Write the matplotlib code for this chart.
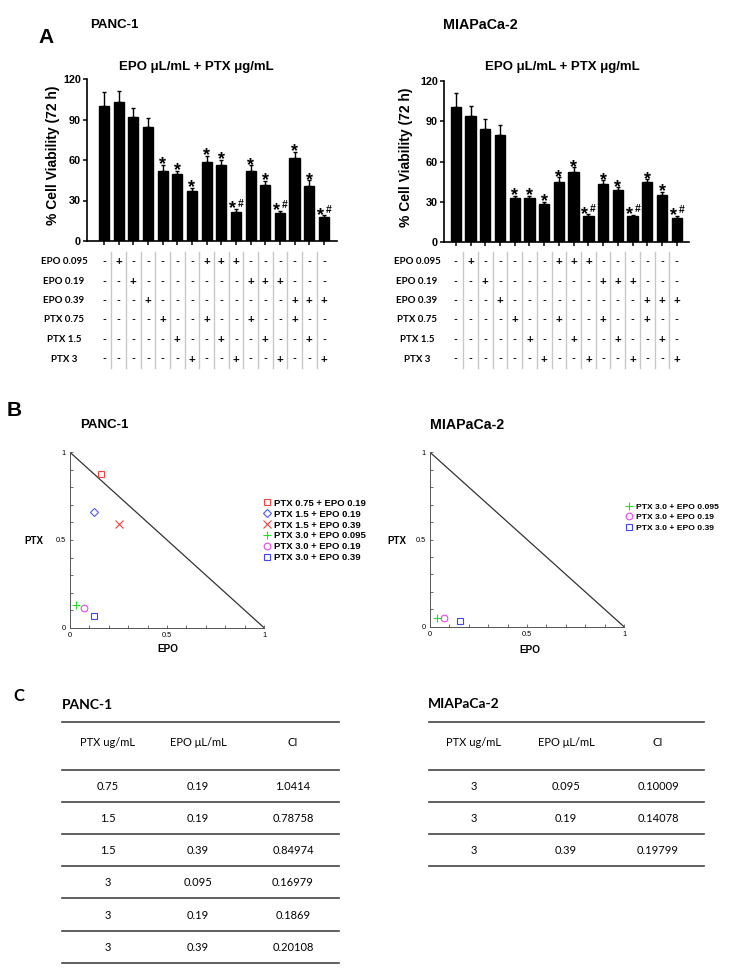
import matplotlib
matplotlib.use('Agg')
import matplotlib.pyplot as plt
import matplotlib.transforms as mtransforms
from matplotlib.lines import Line2D
import numpy as np

plt.rcParams['font.family'] = ['Liberation Sans', 'DejaVu Sans']

W, H = 734, 975

# ---- Panel A: % cell viability (72 h), mean and upper SD ----
panc_viab = [100.1, 103.3, 91.7, 84.1, 52.1, 49.4, 37.4, 58.8, 56.3, 21.6, 51.9, 41.8, 20.4, 61.2, 41.1, 17.9]
panc_sd = [10.5, 8.1, 6.9, 7.1, 4.5, 2.7, 2.2, 4.4, 3.9, 2.0, 4.2, 3.0, 2.0, 4.9, 3.9, 1.0]
mia_viab = [100.5, 93.8, 84.4, 79.7, 32.9, 33.2, 28.2, 45.0, 52.0, 19.6, 43.1, 38.6, 19.3, 44.6, 35.1, 18.3]
mia_sd = [10.4, 7.4, 7.4, 7.4, 1.8, 1.5, 2.0, 3.3, 3.7, 1.2, 2.9, 2.2, 1.0, 2.2, 2.3, 1.3]
sig_marks = ['', '', '', '', '*', '*', '*', '*', '*', '*#', '*', '*', '*#', '*', '*', '*#']
yticks_a = [0, 30, 60, 90, 120]

treat_rows = ['EPO 0.095', 'EPO 0.19', 'EPO 0.39', 'PTX 0.75', 'PTX 1.5', 'PTX 3']
treat_signs = [
    '-+-----+++------',
    '--+-------+++---',
    '---+---------+++',
    '----+--+--+--+--',
    '-----+--+--+--+-',
    '------+--+--+--+',
]

# ---- Panel B: isobologram points (normalised EPO, PTX) ----
panc_labels = ['PTX 0.75 + EPO 0.19', 'PTX 1.5 + EPO 0.19', 'PTX 1.5 + EPO 0.39',
               'PTX 3.0 + EPO 0.095', 'PTX 3.0 + EPO 0.19', 'PTX 3.0 + EPO 0.39']
panc_epo = [0.162, 0.126, 0.255, 0.031, 0.070, 0.126]
panc_ptx = [0.878, 0.658, 0.591, 0.129, 0.110, 0.065]
panc_markers = ['s', 'D', 'x', '+', 'o', 's']
panc_colors = ['#ee4444', '#5555ee', '#ee4444', '#22dd22', '#ee44ee', '#4444ee']

mia_labels = ['PTX 3.0 + EPO 0.095', 'PTX 3.0 + EPO 0.19', 'PTX 3.0 + EPO 0.39']
mia_epo = [0.034, 0.074, 0.155]
mia_ptx = [0.052, 0.052, 0.034]
mia_markers = ['+', 'o', 's']
mia_colors = ['#22dd22', '#ee44ee', '#4444ee']

# ---- Panel C: combination index tables ----
table_header = ['PTX ug/mL', 'EPO μL/mL', 'CI']
panc_ptx_c = ['0.75', '1.5', '1.5', '3', '3', '3']
panc_epo_c = ['0.19', '0.19', '0.39', '0.095', '0.19', '0.39']
panc_ci = ['1.0414', '0.78758', '0.84974', '0.16979', '0.1869', '0.20108']
mia_ptx_c = ['3', '3', '3']
mia_epo_c = ['0.095', '0.19', '0.39']
mia_ci = ['0.10009', '0.14078', '0.19799']


def fx(x):
    return x / W


def fy(y):
    return 1 - y / H


fig = plt.figure(figsize=(7.34, 9.75), dpi=100)
CAL = ['Lato', 'DejaVu Sans']


def bar_panel(left, right, top, bottom, xlim, viab, sd, label_x):
    ax = fig.add_axes([fx(left), fy(bottom), (right - left) / W, (bottom - top) / H])
    x = np.arange(len(viab))
    ax.bar(x, viab, width=0.7, color='black', edgecolor='black', zorder=2)
    ax.errorbar(x, viab, yerr=[np.zeros(len(sd)), sd], fmt='none', ecolor='black',
                elinewidth=1, capsize=1.6, capthick=1, zorder=1)
    for xi, v, s, m in zip(x, viab, sd, sig_marks):
        top_v = v + s
        if m == '*':
            ax.annotate('*', (xi, top_v), xytext=(0, -3.2), textcoords='offset points',
                        ha='center', va='baseline', fontsize=13, fontweight='bold',
                        annotation_clip=False)
        elif m == '*#':
            ax.annotate('*', (xi - 0.23, top_v), xytext=(0, -3.2), textcoords='offset points',
                        ha='center', va='baseline', fontsize=13, fontweight='bold',
                        annotation_clip=False)
            ax.annotate('#', (xi + 0.32, top_v), xytext=(0, 1.9), textcoords='offset points',
                        ha='center', va='baseline', fontsize=7.5, fontweight='bold',
                        annotation_clip=False)
    ax.set_xlim(*xlim)
    ax.set_ylim(0, 120)
    ax.set_yticks(yticks_a)
    ax.set_xticks(x)
    ax.set_xticklabels([])
    for sp in ['top', 'right']:
        ax.spines[sp].set_visible(False)
    for sp in ['left', 'bottom']:
        ax.spines[sp].set_linewidth(1.2)
    ax.tick_params(direction='out', length=3, width=1.1, labelsize=7.8, pad=1.5)
    for t in ax.get_yticklabels():
        t.set_fontweight('bold')

    # treatment table under the bars
    trans = mtransforms.blended_transform_factory(ax.transData, fig.transFigure)
    row_y = [261.7, 281.2, 300.5, 320, 339.5, 359]
    for ry, name, signs in zip(row_y, treat_rows, treat_signs):
        fig.text(fx(label_x), fy(ry), name, ha='center', va='center', fontsize=7,
                 fontweight='bold', family=CAL)
        for i, ch in enumerate(signs):
            ax.text(i, fy(ry), ch, transform=trans, ha='center', va='center',
                    fontsize=8.5 if ch == '+' else 7.5, fontweight='bold', family=CAL)
    for i in range(len(viab) - 1):
        ax.add_artist(Line2D([i + 0.5, i + 0.5], [fy(252), fy(368)], transform=trans,
                             color='#c8c8c8', lw=1, clip_on=False))
    return ax


bar_panel(87, 337, 79, 241, (-1.16, 15.89), panc_viab, panc_sd, 64)
bar_panel(444, 689, 80.7, 242.3, (-0.8, 15.83), mia_viab, mia_sd, 417)

fig.text(fx(46), fy(37.5), 'A', ha='center', va='center', fontsize=15, fontweight='bold')
fig.text(fx(114), fy(25.5), 'PANC-1', ha='center', va='center', fontsize=9.5, fontweight='bold')
fig.text(fx(480), fy(25), 'MIAPaCa-2', ha='center', va='center', fontsize=10.3, fontweight='bold')
for tx in [196, 562]:
    fig.text(fx(tx), fy(67), 'EPO μL/mL + PTX μg/mL', ha='center', va='center',
             fontsize=9.5, fontweight='bold')
fig.text(fx(53), fy(155), '% Cell Viability (72 h)', rotation=90, ha='center', va='center',
         fontsize=10, fontweight='bold')
fig.text(fx(406), fy(157), '% Cell Viability (72 h)', rotation=90, ha='center', va='center',
         fontsize=10, fontweight='bold')

msize = {'s': 4.8, 'D': 3.6, 'x': 5.4, '+': 5.6, 'o': 4.8}


def iso_panel(left, right, top, bottom, epo, ptx, markers, colors, labels, leg_xy,
              leg_size, leg_spacing):
    ax = fig.add_axes([fx(left), fy(bottom), (right - left) / W, (bottom - top) / H])
    ax.plot([0, 1], [1, 0], color='#333333', lw=0.9)
    for e, p, m, c, l in zip(epo, ptx, markers, colors, labels):
        ax.plot(e, p, linestyle='none', marker=m, mec=c, mfc='none', ms=msize[m],
                mew=0.8, label=l, clip_on=False)
    ax.set_xlim(0, 1)
    ax.set_ylim(0, 1)
    for sp in ['top', 'right']:
        ax.spines[sp].set_visible(False)
    for sp in ['left', 'bottom']:
        ax.spines[sp].set_linewidth(0.7)
        ax.spines[sp].set_color('#555555')
    ax.set_xticks([0, 0.5, 1])
    ax.set_xticklabels(['0', '0.5', '1'])
    ax.set_yticks([0, 0.5, 1])
    ax.set_yticklabels(['0', '0.5', '1'])
    ax.set_xticks(np.arange(0, 1.01, 0.1), minor=True)
    ax.set_yticks(np.arange(0, 1.01, 0.1), minor=True)
    ax.tick_params(which='both', direction='in', length=2.5, width=0.6, color='#555555',
                   labelsize=5.3, pad=3)
    hl = 8.5 / (leg_size * 100 / 72)
    ax.legend(loc='center left', bbox_to_anchor=(fx(leg_xy[0]), fy(leg_xy[1])),
              bbox_transform=fig.transFigure, frameon=False,
              prop={'size': leg_size, 'weight': 'bold'}, handlelength=hl,
              handletextpad=2.7 / (leg_size * 100 / 72), labelspacing=leg_spacing,
              borderpad=0, borderaxespad=0)
    return ax


iso_panel(70, 264, 452.3, 627.7, panc_epo, panc_ptx, panc_markers, panc_colors,
          panc_labels, (262.8, 530.5), 6.8, 0.21)
iso_panel(430, 624, 452.3, 626.7, mia_epo, mia_ptx, mia_markers, mia_colors,
          mia_labels, (624.8, 517.5), 6.1, 0.35)

fig.text(fx(14), fy(410.7), 'B', ha='center', va='center', fontsize=15, fontweight='bold')
fig.text(fx(104), fy(425), 'PANC-1', ha='center', va='center', fontsize=9.5, fontweight='bold')
fig.text(fx(467.5), fy(425), 'MIAPaCa-2', ha='center', va='center', fontsize=10.2, fontweight='bold')
for px_, py_ in [(34, 541), (396.5, 541.5)]:
    fig.text(fx(px_), fy(py_), 'PTX', ha='center', va='center', fontsize=7, fontweight='bold')
for px_, py_ in [(168, 649), (529.5, 650)]:
    fig.text(fx(px_), fy(py_), 'EPO', ha='center', va='center', fontsize=7.2, fontweight='bold')


def draw_table(x0, x1, col_x, title, title_x, title_y, columns):
    fig.text(fx(title_x), fy(title_y), title, ha='left', va='center',
             fontsize=10, fontweight='bold', family=CAL)
    lines = [722, 770]
    for cx, head in zip(col_x, table_header):
        fig.text(fx(cx), fy(743), head, ha='center', va='center', fontsize=8, family=CAL)
    n = len(columns[0])
    for r in range(n):
        ry = 786.7 + 32.1 * r
        for cx, col in zip(col_x, columns):
            fig.text(fx(cx), fy(ry), col[r], ha='center', va='center', fontsize=8, family=CAL)
        lines.append(770 + 32.1 * (r + 1))
    for ly in lines:
        fig.add_artist(Line2D([fx(x0), fx(x1)], [fy(ly), fy(ly)], transform=fig.transFigure,
                              color='#444444', lw=1.2))


fig.text(fx(19), fy(696), 'C', ha='center', va='center', fontsize=12, fontweight='bold', family=CAL)
draw_table(62, 339, [108, 198, 293], 'PANC-1', 62, 705,
           [panc_ptx_c, panc_epo_c, panc_ci])
draw_table(429, 704, [474, 566, 658], 'MIAPaCa-2', 428, 703.5,
           [mia_ptx_c, mia_epo_c, mia_ci])

fig.savefig('out.png', dpi=100)
